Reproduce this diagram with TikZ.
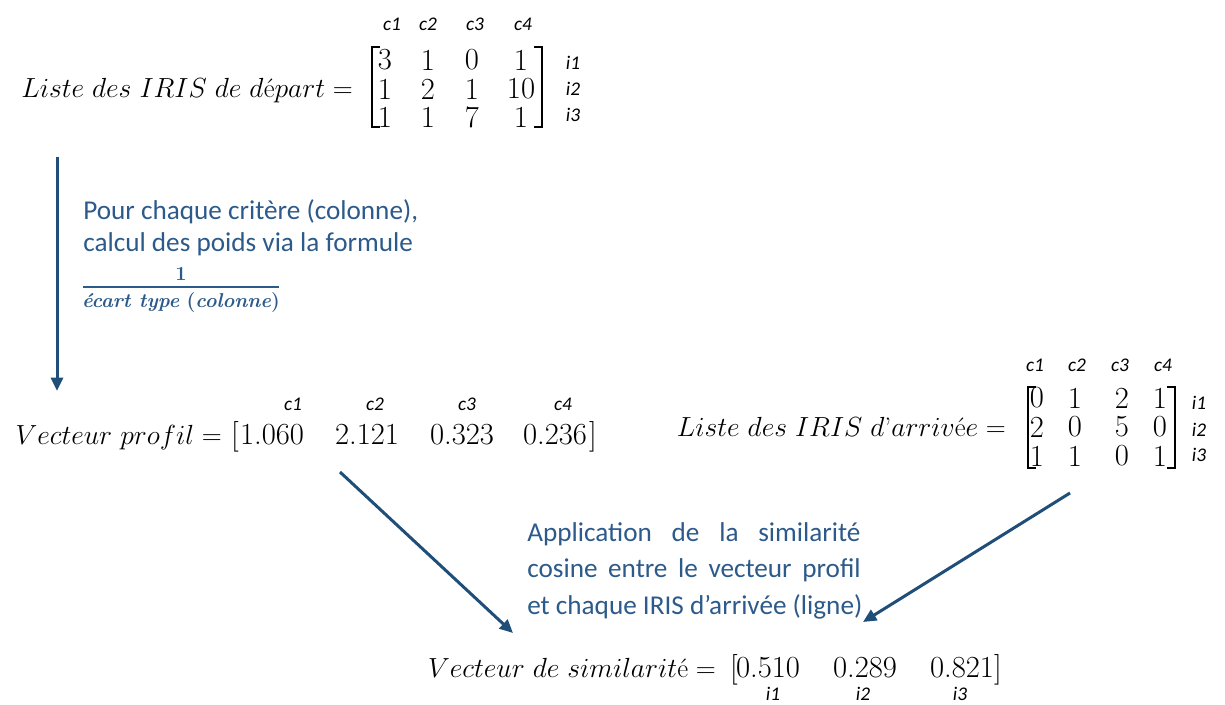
\documentclass[tikz,border=0pt]{standalone}
\usepackage{fontspec}
\newfontfamily\calib{Carlito}
\usetikzlibrary{arrows.meta}
\definecolor{arrowblue}{HTML}{1F4E79}
\definecolor{textblue}{HTML}{2C5A8A}
\tikzset{
  mtext/.style={font=\fontsize{20}{24}\selectfont, inner sep=0pt},
  num/.style={font=\fontsize{23}{26}\selectfont, inner sep=0pt},
  lab/.style={font=\calib\itshape\fontsize{14.5}{16}\selectfont, inner sep=0pt},
  btext/.style={font=\calib\fontsize{20.4}{24}\selectfont, text=textblue, inner sep=0pt},
  ftext/.style={font=\bfseries\fontsize{15}{17}\selectfont, text=textblue, inner sep=0pt},
  flow/.style={draw=arrowblue, line width=2.25pt, -{Triangle[length=10pt,width=9pt]}},
  brk/.style={line width=0.9pt},
}
\begin{document}
\begin{tikzpicture}[x=0.75pt,y=-0.75pt]
\useasboundingbox (0,0) rectangle (1225,704);

% ---------- Liste des IRIS de depart ----------
\node[mtext, anchor=base east] (dep) at (353,97) {$Liste\ des\ IRIS\ de\ d\mbox{é}part=$};
\draw[brk] (380,47) -- (372,47) -- (372,127) -- (380,127);
\draw[brk] (534,47) -- (542,47) -- (542,127) -- (534,127);
\node[num] (d11) at (385,60) {3};
\node[num] (d12) at (428,60) {1};
\node[num] (d13) at (472,60) {0};
\node[num] (d14) at (521,60) {1};
\node[num] (d21) at (385,89) {1};
\node[num] (d22) at (428,89) {2};
\node[num] (d23) at (472,89) {1};
\node[num] (d24) at (521,89) {10};
\node[num] (d31) at (385,117) {1};
\node[num] (d32) at (428,117) {1};
\node[num] (d33) at (472,117) {7};
\node[num] (d34) at (521,117) {1};
\node[lab] (dc1) at (392,24) {c1};
\node[lab] (dc2) at (428,24) {c2};
\node[lab] (dc3) at (475,24) {c3};
\node[lab] (dc4) at (523,24) {c4};
\node[lab] (di1) at (573,63) {i1};
\node[lab] (di2) at (573,89) {i2};
\node[lab] (di3) at (573,115) {i3};

% ---------- text 1 ----------
\node[btext, anchor=base west] (t1a) at (83,219) {Pour chaque critère (colonne),};
\node[btext, anchor=base west] (t1b) at (83,251) {calcul des poids via la formule};
\node[ftext] (fnum) at (181,274) {1};
\draw[textblue, line width=0.8pt] (83,287) -- (279,287);
\node[ftext] (fden) at (181,303) {{\itshape écart type} ({\itshape colonne})};

\coordinate (a1s) at (57,157);
\coordinate (a1e) at (57,391);
\draw[flow] (a1s) -- (a1e);

% ---------- Vecteur profil ----------
\node[mtext, anchor=base east] (prof) at (222,444) {$Vecteur\ profil=$};
\node[num, anchor=base] (pb1) at (235,444) {[};
\node[num, anchor=base] (p1) at (272,444) {1.060};
\node[num, anchor=base] (p2) at (367,444) {2.121};
\node[num, anchor=base] (p3) at (462,444) {0.323};
\node[num, anchor=base] (p4) at (555,444) {0.236};
\node[num, anchor=base] (pb2) at (593,444) {]};
\node[lab] (pc1) at (293,404) {c1};
\node[lab] (pc2) at (375,404) {c2};
\node[lab] (pc3) at (467,404) {c3};
\node[lab] (pc4) at (563,404) {c4};

% ---------- Liste des IRIS d'arrivee ----------
\node[mtext, anchor=base east] (arr) at (1006,436) {$Liste\ des\ IRIS\ d\mbox{'}arriv\mbox{é}e=$};
\draw[brk] (1036,387) -- (1028,387) -- (1028,468) -- (1036,468);
\draw[brk] (1167,387) -- (1175,387) -- (1175,468) -- (1167,468);
\node[num] (r11) at (1037,398) {0};
\node[num] (r12) at (1075,398) {1};
\node[num] (r13) at (1122,398) {2};
\node[num] (r14) at (1160,398) {1};
\node[num] (r21) at (1037,427) {2};
\node[num] (r22) at (1075,427) {0};
\node[num] (r23) at (1122,427) {5};
\node[num] (r24) at (1160,427) {0};
\node[num] (r31) at (1037,456) {1};
\node[num] (r32) at (1075,456) {1};
\node[num] (r33) at (1122,456) {0};
\node[num] (r34) at (1160,456) {1};
\node[lab] (rc1) at (1035,365) {c1};
\node[lab] (rc2) at (1077,365) {c2};
\node[lab] (rc3) at (1120,365) {c3};
\node[lab] (rc4) at (1163,365) {c4};
\node[lab] (ri1) at (1199,403) {i1};
\node[lab] (ri2) at (1199,430) {i2};
\node[lab] (ri3) at (1199,455) {i3};

% ---------- text 2 ----------
\node[btext, anchor=base west] (t2a) at (527,541) {\makebox[250pt][s]{Application de la similarité}};
\node[btext, anchor=base west] (t2b) at (527,577) {\makebox[250pt][s]{cosine entre le vecteur profil}};
\node[btext, anchor=base west] (t2c) at (527,614) {et chaque IRIS d’arrivée (ligne)};

\coordinate (a2s) at (340,472);
\coordinate (a2e) at (513,633);
\draw[flow] (a2s) -- (a2e);
\coordinate (a3s) at (1070,493);
\coordinate (a3e) at (863,622);
\draw[flow] (a3s) -- (a3e);

% ---------- Vecteur de similarite ----------
\node[mtext, anchor=base east] (sim) at (716,677) {$Vecteur\ de\ similarit\mbox{é}=$};
\node[num, anchor=base] (sb1) at (734,677) {[};
\node[num, anchor=base] (s1) at (768,677) {0.510};
\node[num, anchor=base] (s2) at (865,677) {0.289};
\node[num, anchor=base] (s3) at (962,677) {0.821};
\node[num, anchor=base] (sb2) at (998,677) {]};
\node[lab] (si1) at (773,694) {i1};
\node[lab] (si2) at (863,694) {i2};
\node[lab] (si3) at (960,694) {i3};
\end{tikzpicture}
\end{document}
